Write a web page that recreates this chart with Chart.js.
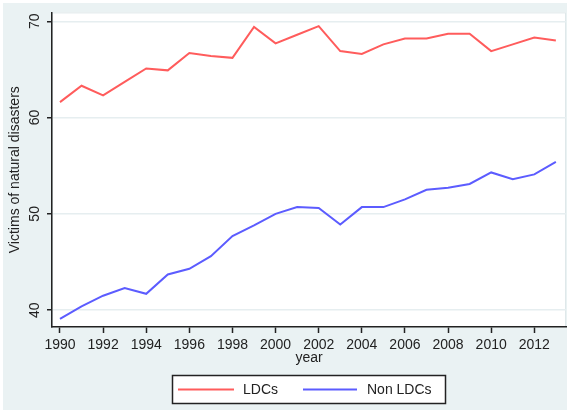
<!DOCTYPE html>
<html><head><meta charset="utf-8">
<script src="https://cdn.jsdelivr.net/npm/chart.js@4"></script>
<style>html,body{margin:0;padding:0;background:#fff}#wrap{width:569px;height:412px}canvas{display:block}</style>
</head><body><div id="wrap"><canvas id="c" width="569" height="412"></canvas></div>
<script>
const years = [1990,1991,1992,1993,1994,1995,1996,1997,1998,1999,2000,2001,2002,2003,2004,2005,2006,2007,2008,2009,2010,2011,2012,2013];
const ldcs = [61.6,63.3,62.3,63.7,65.1,64.9,66.7,66.4,66.2,69.4,67.7,68.6,69.5,66.9,66.6,67.6,68.2,68.2,68.7,68.7,66.9,67.6,68.3,68.0];
const nonLdcs = [39.1,40.4,41.5,42.3,41.7,43.7,44.3,45.6,47.7,48.8,50.0,50.7,50.6,48.9,50.7,50.7,51.5,52.5,52.7,53.1,54.3,53.6,54.1,55.4];
const xTicks = [1990,1992,1994,1996,1998,2000,2002,2004,2006,2008,2010,2012];
const yTicks = [40,50,60,70];
const seriesNames = ['LDCs','Non LDCs'];
const seriesColors = ['#ff5c5c','#5c5cff'];
const yTitle = 'Victims of natural disasters';
const xTitle = 'year';

const FONT = 'Liberation Sans, Arial, sans-serif';
const TXT = '#222';

const bgPlugin = {
  id: 'bg',
  beforeDraw(chart) {
    const ctx = chart.ctx, ca = chart.chartArea;
    ctx.save();
    ctx.fillStyle = '#ffffff';
    ctx.fillRect(0, 0, chart.width, chart.height);
    ctx.fillStyle = '#eaf2f3';
    ctx.fillRect(3, 3, chart.width - 5, chart.height - 5);
    ctx.fillStyle = '#ffffff';
    ctx.fillRect(ca.left, ca.top, ca.right - ca.left, ca.bottom - ca.top);
    ctx.strokeStyle = '#dfe8ea';
    ctx.lineWidth = 1;
    ctx.strokeRect(ca.left + 0.5, ca.top + 0.5, ca.right - ca.left - 1, ca.bottom - ca.top - 1);
    ctx.restore();
  }
};

const legendPlugin = {
  id: 'boxLegend',
  afterDraw(chart) {
    const ctx = chart.ctx, ca = chart.chartArea;
    const w = 274, h = 29;
    const cx = (ca.left + ca.right) / 2;
    const left = Math.round(cx - w / 2), top = 375;
    ctx.save();
    ctx.fillStyle = '#ffffff';
    ctx.fillRect(left, top, w, h);
    ctx.strokeStyle = '#222';
    ctx.lineWidth = 1.5;
    ctx.strokeRect(left + 0.5, top + 0.5, w - 1, h - 1);
    const midY = top + h / 2;
    const offs = [[6, 62, 71], [131, 185, 195]];
    chart.data.datasets.forEach((ds, i) => {
      const o = offs[i];
      ctx.strokeStyle = ds.borderColor;
      ctx.lineWidth = 2;
      ctx.beginPath();
      ctx.moveTo(left + o[0], midY);
      ctx.lineTo(left + o[1], midY);
      ctx.stroke();
      ctx.fillStyle = TXT;
      ctx.font = '14px ' + FONT;
      ctx.textBaseline = 'middle';
      ctx.textAlign = 'left';
      ctx.fillText(ds.label, left + o[2], midY + 1);
    });
    ctx.restore();
  }
};

new Chart(document.getElementById('c'), {
  type: 'line',
  data: {
    datasets: [
      { label: seriesNames[0], data: years.map((y, i) => ({x: y, y: ldcs[i]})), borderColor: seriesColors[0], borderWidth: 2, pointRadius: 0, tension: 0, fill: false },
      { label: seriesNames[1], data: years.map((y, i) => ({x: y, y: nonLdcs[i]})), borderColor: seriesColors[1], borderWidth: 2, pointRadius: 0, tension: 0, fill: false }
    ]
  },
  options: {
    responsive: false,
    devicePixelRatio: 1,
    animation: false,
    layout: { padding: { top: 9, right: 3, bottom: 45, left: 0 } },
    plugins: { legend: { display: false }, tooltip: { enabled: false } },
    scales: {
      x: {
        type: 'linear',
        min: 1989.63, max: 2013.47,
        afterBuildTicks(scale) { scale.ticks = xTicks.map(v => ({value: v})); },
        afterFit(scale) { scale.height = 40; },
        ticks: { color: TXT, font: { family: FONT, size: 14 }, padding: 4, maxRotation: 0, autoSkip: false, callback: v => String(v) },
        grid: { drawOnChartArea: false, drawTicks: true, tickLength: 6, tickColor: '#222', tickWidth: 1.5 },
        border: { display: true, color: '#222', width: 1.5 },
        title: { display: true, text: xTitle, color: TXT, font: { family: FONT, size: 14 }, padding: { top: 0, bottom: 0 } }
      },
      y: {
        type: 'linear',
        min: 38.25, max: 70.92,
        afterBuildTicks(scale) { scale.ticks = yTicks.map(v => ({value: v})); },
        afterFit(scale) { scale.width = 52; },
        ticks: { color: TXT, font: { family: FONT, size: 14 }, padding: 4, minRotation: 90, maxRotation: 90, crossAlign: 'center', callback: v => String(v) },
        grid: { color: '#e6eef0', lineWidth: 1.5, drawTicks: true, tickLength: 5, tickColor: '#222', tickWidth: 1.5 },
        border: { display: true, color: '#222', width: 1.5 },
        title: { display: true, text: yTitle, color: TXT, font: { family: FONT, size: 14 }, padding: { top: 7, bottom: 0 } }
      }
    }
  },
  plugins: [bgPlugin, legendPlugin]
});
</script>
</body></html>
